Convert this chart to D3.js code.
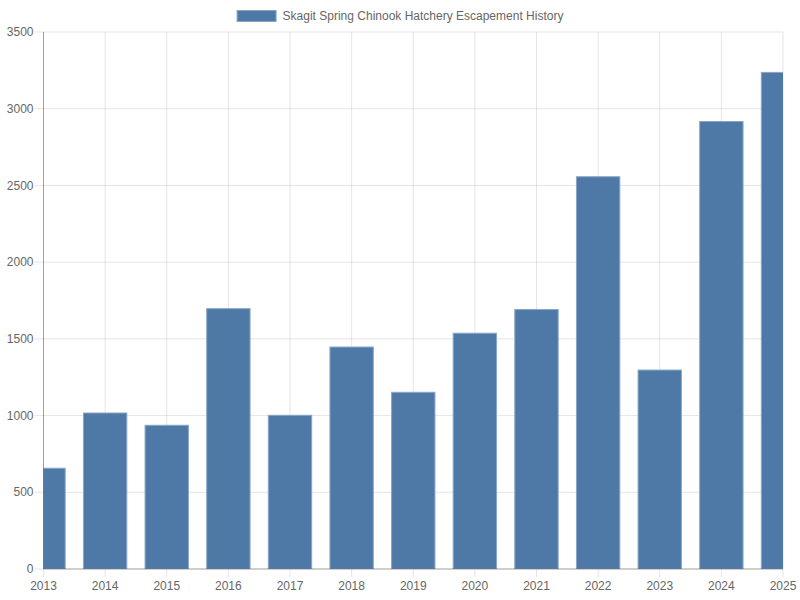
<!DOCTYPE html>
<html>
<head>
<meta charset="utf-8">
<script src="https://cdn.jsdelivr.net/npm/d3@7"></script>
<style>
  body { margin: 0; background: #fff; }
  text { font-family: "Liberation Sans", Arial, sans-serif; }
</style>
</head>
<body>
<div id="chart"></div>
<script>
// chart data
const YEARS = [2013, 2014, 2015, 2016, 2017, 2018, 2019, 2020, 2021, 2022, 2023, 2024, 2025];
const ESCAPEMENT = [660, 1020, 940, 1700, 1005, 1450, 1155, 1540, 1695, 2560, 1300, 2920, 3240];
const Y_TICKS = [0, 500, 1000, 1500, 2000, 2500, 3000, 3500];
const SERIES_NAME = "Skagit Spring Chinook Hatchery Escapement History";

// frame and plot area
const WIDTH = 800;
const HEIGHT = 600;
const MARGINS = {left: 43.5, right: 17, top: 32, bottom: 31};
const PLOT_W = WIDTH - MARGINS.left - MARGINS.right;
const PLOT_H = HEIGHT - MARGINS.top - MARGINS.bottom;

const SVG = d3.select("#chart")
              .append("svg")
                .attr("width", WIDTH)
                .attr("height", HEIGHT);

// scales
const X_SCALE = d3.scaleLinear()
                  .domain([d3.min(YEARS), d3.max(YEARS)])
                  .range([0, PLOT_W]);
const Y_SCALE = d3.scaleLinear()
                  .domain([0, 3500])
                  .range([PLOT_H, 0]);

// bars take 0.8 * 0.9 of each year slot
const STEP = X_SCALE(YEARS[1]) - X_SCALE(YEARS[0]);
const BAR_W = STEP * 0.72;

const PLOT = SVG.append("g")
                .attr("transform", "translate(" + MARGINS.left + "," + MARGINS.top + ")");

// grid lines
PLOT.append("g")
    .selectAll("line")
    .data(Y_TICKS)
    .enter()
    .append("line")
      .attr("x1", -9)
      .attr("x2", PLOT_W)
      .attr("y1", (d) => Y_SCALE(d))
      .attr("y2", (d) => Y_SCALE(d))
      .attr("stroke", "rgba(0,0,0,0.1)");

PLOT.append("g")
    .selectAll("line")
    .data(YEARS)
    .enter()
    .append("line")
      .attr("x1", (d) => X_SCALE(d))
      .attr("x2", (d) => X_SCALE(d))
      .attr("y1", 0)
      .attr("y2", PLOT_H + 8)
      .attr("stroke", "rgba(0,0,0,0.1)");

// clip so edge bars get cut in half
SVG.append("defs")
   .append("clipPath")
     .attr("id", "plotclip")
   .append("rect")
     .attr("width", PLOT_W)
     .attr("height", PLOT_H);

PLOT.append("g")
    .attr("clip-path", "url(#plotclip)")
    .selectAll("rect")
    .data(YEARS)
    .enter()
    .append("rect")
      .attr("x", (d) => X_SCALE(d) - BAR_W / 2 + 0.5)
      .attr("y", (d, i) => Y_SCALE(ESCAPEMENT[i]) + 0.5)
      .attr("width", BAR_W - 1)
      .attr("height", (d, i) => PLOT_H - Y_SCALE(ESCAPEMENT[i]) - 0.5)
      .attr("fill", "#4e79a7")
      .attr("stroke", "#89a6c6")
      .attr("stroke-width", 1);

// axis lines
PLOT.append("line")
    .attr("x1", 0).attr("x2", 0)
    .attr("y1", 0).attr("y2", PLOT_H)
    .attr("stroke", "rgba(0,0,0,0.3)");
PLOT.append("line")
    .attr("x1", 0).attr("x2", PLOT_W)
    .attr("y1", PLOT_H).attr("y2", PLOT_H)
    .attr("stroke", "rgba(0,0,0,0.3)");

// tick labels
PLOT.append("g")
    .selectAll("text")
    .data(Y_TICKS)
    .enter()
    .append("text")
      .attr("x", -10)
      .attr("y", (d) => Y_SCALE(d))
      .attr("dy", "0.35em")
      .attr("text-anchor", "end")
      .attr("font-size", "12px")
      .attr("fill", "#666")
      .text((d) => d);

PLOT.append("g")
    .selectAll("text")
    .data(YEARS)
    .enter()
    .append("text")
      .attr("x", (d) => X_SCALE(d))
      .attr("y", PLOT_H + 21)
      .attr("text-anchor", "middle")
      .attr("font-size", "12px")
      .attr("fill", "#666")
      .text((d) => d);

// legend
const LEGEND = SVG.append("g");
const LEGEND_TEXT = LEGEND.append("text")
                          .attr("y", 16)
                          .attr("dy", "0.35em")
                          .attr("font-size", "12px")
                          .attr("fill", "#666")
                          .text(SERIES_NAME);
const TEXT_W = LEGEND_TEXT.node().getComputedTextLength();
const LEGEND_W = 40 + 6 + TEXT_W;
const LEGEND_X = (WIDTH - LEGEND_W) / 2;
LEGEND.append("rect")
      .attr("x", LEGEND_X + 0.5)
      .attr("y", 10.5)
      .attr("width", 39)
      .attr("height", 11)
      .attr("fill", "#4e79a7")
      .attr("stroke", "#89a6c6");
LEGEND_TEXT.attr("x", LEGEND_X + 46);
</script>
</body>
</html>
